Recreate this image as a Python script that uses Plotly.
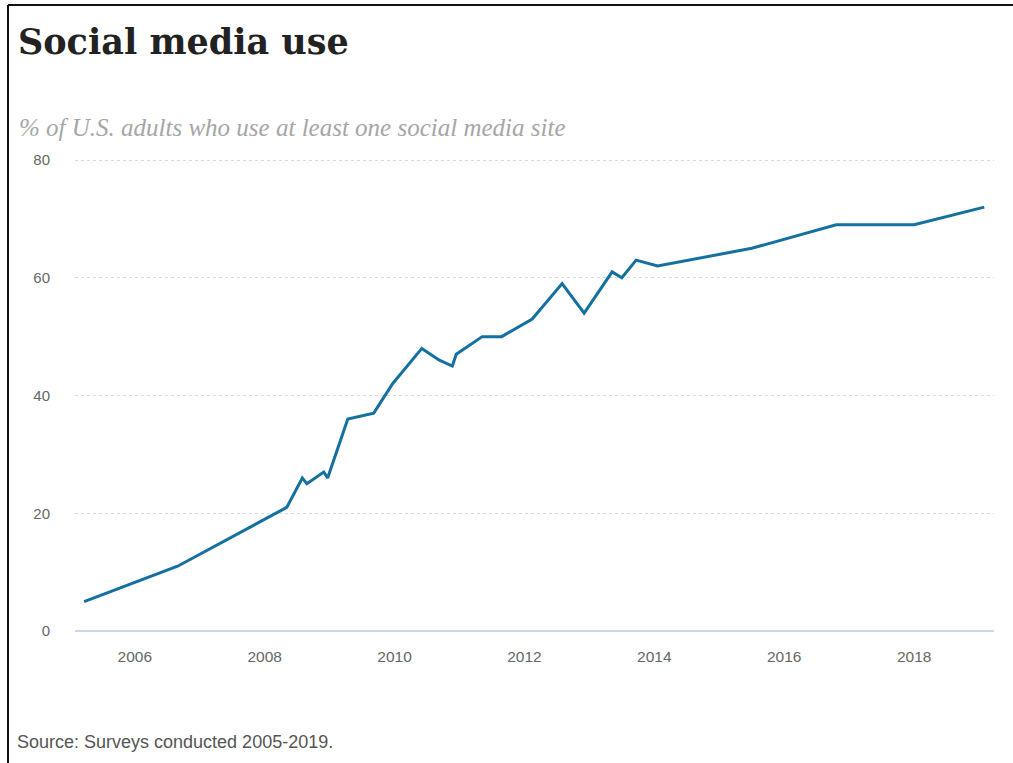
import plotly.graph_objects as go

# Data (decimal year of survey, % of U.S. adults using at least one social media site)
survey_time = [2005.22, 2006.66, 2008.34, 2008.58, 2008.65, 2008.91, 2008.97, 2009.28,
               2009.68, 2009.97, 2010.42, 2010.69, 2010.89, 2010.95, 2011.35, 2011.65,
               2012.12, 2012.58, 2012.92, 2013.35, 2013.50, 2013.72, 2014.05, 2015.50,
               2016.80, 2018.00, 2019.08]
share_pct = [5, 11, 21, 26, 25, 27, 26, 36, 37, 42, 48, 46, 45, 47, 50, 50,
             53, 59, 54, 61, 60, 63, 62, 65, 69, 69, 72]
x_ticks = [2006, 2008, 2010, 2012, 2014, 2016, 2018]
y_ticks = [0, 20, 40, 60, 80]

W, H = 1013, 763
ML, MR, MT, MB = 75, 19, 158, 132
PW, PH = W - ML - MR, H - MT - MB
Y_TOP = 80 * PH / (H - MB - 160)  # so that 80 sits at y=160 px


def px_x(px):
    return (px - ML) / PW


def px_y(py):
    return (H - MB - py) / PH


fig = go.Figure()
fig.add_trace(go.Scatter(
    x=survey_time, y=share_pct, mode="lines",
    line=dict(color="#14709f", width=3),
    hoverinfo="x+y", showlegend=False,
))

fig.update_layout(
    width=W, height=H, autosize=False,
    margin=dict(l=ML, r=MR, t=MT, b=MB),
    paper_bgcolor="white", plot_bgcolor="white",
    title=dict(
        text="<b>Social media use</b>",
        x=18 / W, xanchor="left", xref="container",
        y=1 - 42 / H, yanchor="middle", yref="container",
        font=dict(family="DejaVu Serif", size=35, color="#222222"),
    ),
    xaxis=dict(
        range=[2005.08, 2019.23], tickvals=x_ticks,
        ticktext=[str(t) for t in x_ticks],
        showgrid=False, zeroline=False, showline=False,
        ticks="", ticklabelstandoff=14,
        tickfont=dict(family="Liberation Sans", size=15.5, color="#666666"),
        fixedrange=True,
    ),
    yaxis=dict(
        range=[0, Y_TOP], tickvals=y_ticks,
        showgrid=True, gridcolor="#d9d9d9", griddash="dot", gridwidth=1,
        zeroline=True, zerolinecolor="#c9d8ec", zerolinewidth=2,
        showline=False, ticks="", ticklabelstandoff=24,
        tickfont=dict(family="Liberation Sans", size=15, color="#666666"),
        fixedrange=True,
    ),
    annotations=[
        dict(text="<i>% of U.S. adults who use at least one social media site</i>",
             xref="paper", yref="paper", x=px_x(17), y=px_y(128),
             xanchor="left", yanchor="middle", showarrow=False,
             font=dict(family="Liberation Serif", size=25, color="#a6a6a6")),
        dict(text="Source: Surveys conducted 2005-2019.",
             xref="paper", yref="paper", x=px_x(15), y=px_y(742),
             xanchor="left", yanchor="middle", showarrow=False,
             font=dict(family="Liberation Sans", size=18, color="#555555")),
    ],
    shapes=[
        dict(type="line", xref="paper", yref="paper",
             x0=px_x(8), x1=px_x(W + 5), y0=px_y(5), y1=px_y(5),
             line=dict(color="#111111", width=2)),
        dict(type="line", xref="paper", yref="paper",
             x0=px_x(8), x1=px_x(8), y0=px_y(5), y1=px_y(H + 5),
             line=dict(color="#111111", width=2)),
    ],
)

fig.write_html("out.html", config={"displayModeBar": False})
